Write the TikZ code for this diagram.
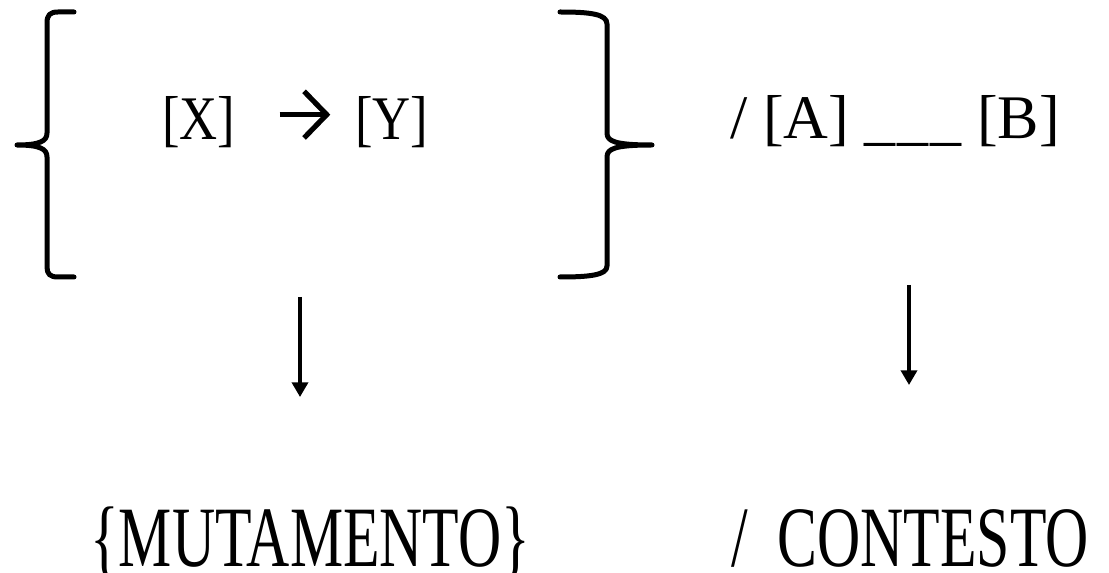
\documentclass[tikz,border=0pt]{standalone}
\usepackage{fontspec}
\setmainfont{Liberation Serif}
\usetikzlibrary{arrows.meta}
\tikzstyle{brace}=[line width=3.75pt,line cap=round,line join=round]
\tikzstyle{term}=[inner sep=0pt,anchor=base west,font=\fontsize{46.5}{56}\selectfont]
\tikzstyle{seg}=[term,xscale=.85,transform shape]
\tikzstyle{cond}=[inner sep=0pt,anchor=base west,font=\fontsize{64.5}{78}\selectfont,xscale=.695,transform shape]
\tikzstyle{down}=[line width=2.6pt,-{Triangle[length=11pt,width=12pt]}]
\tikzstyle{goes}=[line width=3.9pt,-{Straight Barb[length=17pt,width=35pt]}]

\begin{document}
\begin{tikzpicture}[x=0.75pt,y=-0.75pt]
\useasboundingbox (0,0) rectangle (1109,573);

%braces
\draw[brace] (74,12) -- (58,12) .. controls (50,12) and (47,15) .. (47,23) -- (47,133)
  .. controls (47,141) and (40,145) .. (17,145) .. controls (40,145) and (47,149) .. (47,157)
  -- (47,267) .. controls (47,274) and (50,277) .. (58,277) -- (74,277);
\draw[brace] (560,12) .. controls (590,12) and (607,14) .. (607,24) -- (607,133)
  .. controls (607,141) and (614,145) .. (652,145) .. controls (614,145) and (607,149) .. (607,157)
  -- (607,266) .. controls (607,275) and (590,277) .. (560,277);

%rule and context
\node[seg] (x) at (162,140) {[X]};
\node[seg] (y) at (355,140) {[Y]};
\node[term] (ctx) at (730,139) {/ [A] \_\kern1.5pt\_\kern1.5pt\_ [B]};
\draw[goes,shorten <=33pt,shorten >=18.5pt] ([yshift=6pt]x.east) -- ([yshift=6pt]y.west);

%labels
\node[cond] (mut) at (90,566) {\{MUTAMENTO\}};
\node[cond] (con) at (731,566) {/~ CONTESTO};

%arrows
\coordinate (lt) at (300,297);
\coordinate (lb) at (300,397);
\coordinate (rt) at (909,285);
\coordinate (rb) at (909,385);
\draw[down] (lt) -- (lb);
\draw[down] (rt) -- (rb);

\end{tikzpicture}
\end{document}
